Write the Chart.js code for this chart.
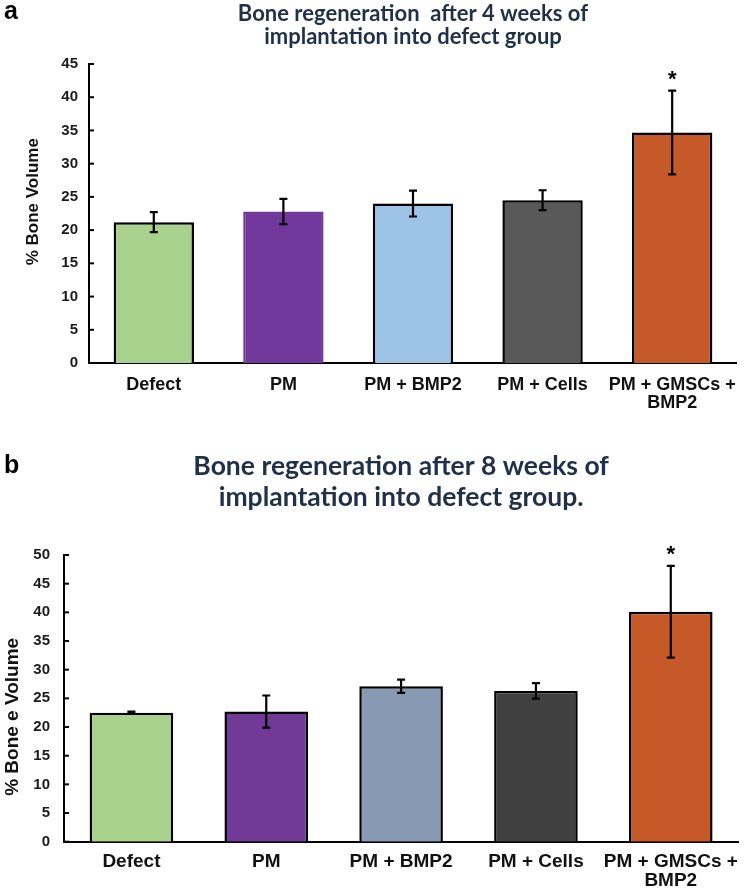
<!DOCTYPE html>
<html>
<head>
<meta charset="utf-8">
<script src="https://cdn.jsdelivr.net/npm/chart.js@4.4.1/dist/chart.umd.min.js"></script>
<style>
  html, body { margin: 0; padding: 0; background: #ffffff; }
  body { width: 750px; height: 894px; position: relative; overflow: hidden; }
  canvas { position: absolute; left: 0; }
  #chartA { top: 0; }
  #chartB { top: 430px; }
</style>
</head>
<body>
<canvas id="chartA" width="750" height="430"></canvas>
<canvas id="chartB" width="750" height="464"></canvas>
<script>
// ---- Data ----
const categories = ['Defect', 'PM', 'PM + BMP2', 'PM + Cells', ['PM + GMSCs +', 'BMP2']];

const week4Values = [21.2, 22.8, 24.0, 24.5, 34.7];
const week4Errors = [1.5, 1.9, 1.95, 1.5, 6.3];

const week8Values = [22.5, 22.7, 27.1, 26.3, 40.1];
const week8Errors = [0.2, 2.8, 1.15, 1.35, 8.0];

const significant = [false, false, false, false, true];

const week4Colors = ['#A9D18E', '#70389A', '#9DC3E6', '#595959', '#C55A28'];
const week4Borders = ['#000000', '#70389A', '#000000', '#000000', '#000000'];
const week8Colors = ['#A9D18E', '#713A96', '#8799B3', '#404040', '#C55A28'];
const week8Borders = ['#000000', '#000000', '#000000', '#000000', '#000000'];

const week4Title = ['Bone regeneration  after 4 weeks of', 'implantation into defect group'];
const week8Title = ['Bone regeneration after 8 weeks of', 'implantation into defect group.'];

const ARIAL = "'Liberation Sans', Arial, sans-serif";
const TITLEFONT = "Lato, 'Open Sans', sans-serif";

// ---- Plugin: error bars, significance stars, inward y ticks, panel letter ----
const extrasPlugin = {
  id: 'extras',
  afterDatasetsDraw(chart, args, opts) {
    const ctx = chart.ctx;
    const y = chart.scales.y;
    const meta = chart.getDatasetMeta(0);
    ctx.save();
    ctx.strokeStyle = '#000';
    ctx.lineWidth = 2.2;
    meta.data.forEach((bar, i) => {
      const v = opts.values[i], e = opts.errors[i];
      const xc = bar.x;
      const yt = y.getPixelForValue(v + e);
      const yb = y.getPixelForValue(v - e);
      ctx.beginPath();
      ctx.moveTo(xc, yt); ctx.lineTo(xc, yb);
      ctx.moveTo(xc - 4, yt); ctx.lineTo(xc + 4, yt);
      ctx.moveTo(xc - 4, yb); ctx.lineTo(xc + 4, yb);
      ctx.stroke();
      if (opts.stars[i]) {
        ctx.fillStyle = '#000';
        ctx.font = 'bold 22px ' + ARIAL;
        ctx.textAlign = 'center';
        ctx.textBaseline = 'alphabetic';
        ctx.fillText('*', xc, yt - 5);
      }
    });
    ctx.restore();
  },
  afterDraw(chart, args, opts) {
    const ctx = chart.ctx;
    const y = chart.scales.y;
    const left = chart.chartArea.left;
    ctx.save();
    ctx.strokeStyle = '#000';
    ctx.lineWidth = 2;
    y.ticks.forEach((t, i) => {
      const py = y.getPixelForTick(i);
      ctx.beginPath();
      ctx.moveTo(left, py);
      ctx.lineTo(left + 5, py);
      ctx.stroke();
    });
    ctx.fillStyle = '#000';
    ctx.font = 'bold 25px ' + ARIAL;
    ctx.textAlign = 'left';
    ctx.textBaseline = 'alphabetic';
    ctx.fillText(opts.letter, 4, opts.letterY);
    ctx.restore();
  }
};

function makeChart(id, cfg) {
  return new Chart(document.getElementById(id), {
    type: 'bar',
    data: {
      labels: categories,
      datasets: [{
        data: cfg.values,
        backgroundColor: cfg.colors,
        borderColor: cfg.borders,
        borderWidth: 2.5,
        barPercentage: 0.62,
        categoryPercentage: 1.0
      }]
    },
    options: {
      responsive: false,
      animation: false,
      devicePixelRatio: 1,
      layout: { padding: { left: 0, right: cfg.padRight, top: 0, bottom: 0 } },
      plugins: {
        legend: { display: false },
        tooltip: { enabled: false },
        title: {
          display: true,
          fullSize: false,
          text: cfg.title,
          color: '#1F3047',
          font: { family: TITLEFONT, weight: 'bold', size: cfg.titleSize, lineHeight: cfg.titleLH },
          padding: { top: cfg.titlePadTop, bottom: cfg.titlePadBottom }
        },
        extras: {
          values: cfg.values,
          errors: cfg.errors,
          stars: significant,
          letter: cfg.letter,
          letterY: cfg.letterY
        }
      },
      scales: {
        x: {
          grid: { display: false, drawTicks: false },
          border: { display: true, color: '#000', width: 2 },
          ticks: {
            color: '#111',
            font: { family: ARIAL, weight: 'bold', size: cfg.xFont, lineHeight: 1.0 },
            padding: cfg.xPad,
            maxRotation: 0,
            autoSkip: false
          },
          afterFit(scale) { scale.height = cfg.xHeight; }
        },
        y: {
          min: 0,
          max: cfg.yMax,
          grid: { display: false, drawTicks: false },
          border: { display: true, color: '#000', width: 2 },
          ticks: {
            stepSize: 5,
            color: '#1a1a1a',
            font: { family: ARIAL, weight: 'bold', size: 15 },
            padding: cfg.yPad
          },
          title: {
            display: true,
            text: cfg.yTitle,
            color: '#111',
            font: { family: ARIAL, weight: 'bold', size: cfg.yTitleSize, lineHeight: 1.2 },
            padding: { top: cfg.yTitlePad, bottom: 0 }
          },
          afterFit(scale) { scale.width = cfg.yWidth; }
        }
      }
    },
    plugins: [extrasPlugin]
  });
}

makeChart('chartA', {
  values: week4Values, errors: week4Errors,
  colors: week4Colors, borders: week4Borders,
  title: week4Title, titleSize: 22, titleLH: 1.05, titlePadTop: 2, titlePadBottom: 15.8,
  letter: 'a', letterY: 19,
  yMax: 45, yWidth: 89, yPad: 11,
  yTitle: '     % Bone Volume', yTitleSize: 17, yTitlePad: 23,
  xFont: 18, xPad: 13, xHeight: 67, padRight: 1
});

makeChart('chartB', {
  values: week8Values, errors: week8Errors,
  colors: week8Colors, borders: week8Borders,
  title: week8Title, titleSize: 26.5, titleLH: 1.17, titlePadTop: 20.5, titlePadBottom: 42.5,
  letter: 'b', letterY: 43,
  yMax: 50, yWidth: 64, yPad: 14,
  yTitle: '% Bone e Volume       ', yTitleSize: 19, yTitlePad: 1,
  xFont: 19, xPad: 11, xHeight: 52.3, padRight: 3.5
});
</script>
</body>
</html>
